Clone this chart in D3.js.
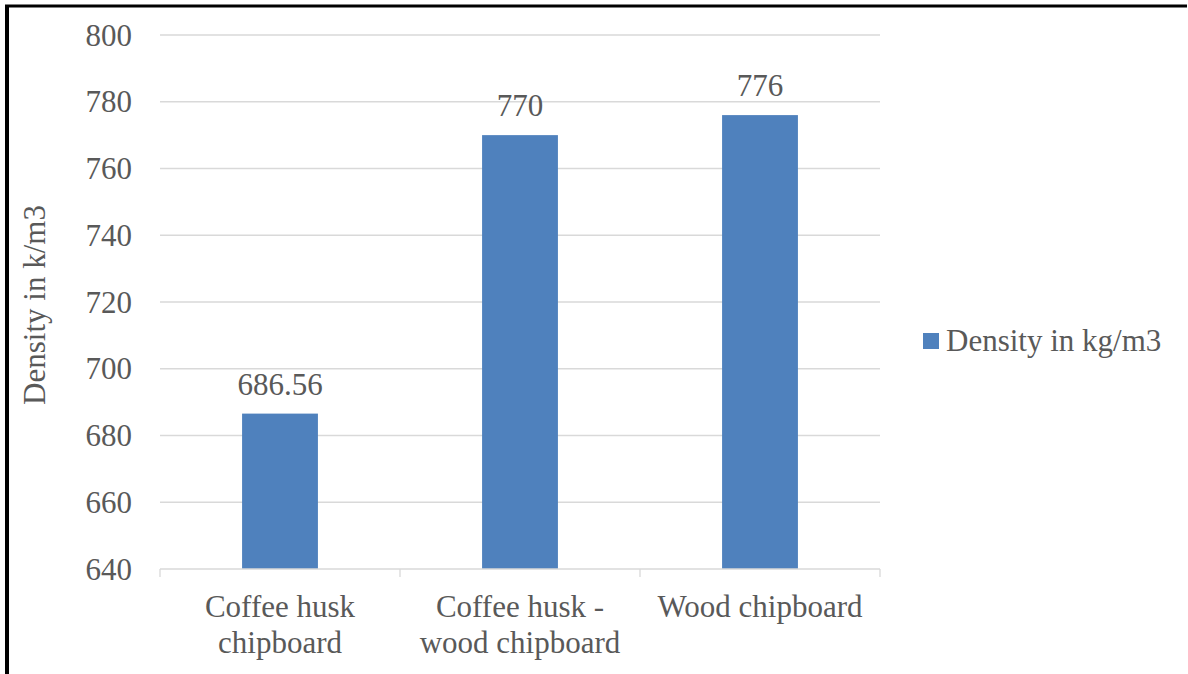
<!DOCTYPE html>
<html>
<head>
<meta charset="utf-8">
<script src="https://cdn.jsdelivr.net/npm/d3@7"></script>
<style>
  html, body { margin: 0; padding: 0; background: #fff; }
  svg { display: block; }
</style>
</head>
<body>
<svg id="chart" width="1188" height="674"></svg>
<script>
// Chart data
const categories = [["Coffee husk", "chipboard"], ["Coffee husk -", "wood chipboard"], ["Wood chipboard"]];
const density = [686.56, 770, 776];
const valueLabels = ["686.56", "770", "776"];
const yTicks = [640, 660, 680, 700, 720, 740, 760, 780, 800];
const seriesName = "Density in kg/m3";
const yTitle = "Density in k/m3";

const FONT = "Liberation Serif";
const FS = 31;
const TXT = "#595959";

const svg = d3.select("#chart");
const W = 1188, H = 674;
const plot = { left: 160, right: 880, top: 35, bottom: 569 };

// Frame lines (left and top)
svg.append("line").attr("x1", 7).attr("x2", 7).attr("y1", 5).attr("y2", H)
  .attr("stroke", "#000").attr("stroke-width", 4);
svg.append("line").attr("x1", 5).attr("x2", 1187).attr("y1", 6).attr("y2", 6)
  .attr("stroke", "#000").attr("stroke-width", 3);

const x = d3.scaleBand()
  .domain(categories.map((d, i) => i))
  .range([plot.left, plot.right])
  .paddingInner(0.684).paddingOuter(0.342);

const xOuter = d3.scaleBand()
  .domain(categories.map((d, i) => i))
  .range([plot.left, plot.right]);

const y = d3.scaleLinear().domain([640, 800]).range([plot.bottom, plot.top]);

// Gridlines
svg.append("g").selectAll("line").data(yTicks.filter(t => t !== 640)).join("line")
  .attr("x1", plot.left).attr("x2", plot.right)
  .attr("y1", d => y(d)).attr("y2", d => y(d))
  .attr("stroke", "#d9d9d9").attr("stroke-width", 1.3);

// Y axis labels
const yAxis = d3.axisLeft(y).tickValues(yTicks).tickSize(0).tickPadding(28);
const gy = svg.append("g").attr("transform", `translate(${plot.left},0)`).call(yAxis)
  .attr("font-family", FONT).attr("font-size", FS);
gy.select(".domain").remove();
gy.selectAll("text").attr("fill", TXT).attr("dy", "0.33em");

// Bars
svg.append("g").selectAll("rect").data(density).join("rect")
  .attr("x", (d, i) => x(i))
  .attr("width", x.bandwidth())
  .attr("y", d => y(d))
  .attr("height", d => y(640) - y(d))
  .attr("fill", "#4f81bd");

// X axis line and category separators
const gx = svg.append("g");
gx.append("line").attr("x1", plot.left).attr("x2", plot.right)
  .attr("y1", plot.bottom).attr("y2", plot.bottom)
  .attr("stroke", "#d9d9d9").attr("stroke-width", 1.3);
const sep = [0, 1, 2].map(i => xOuter(i)).concat([plot.right]);
gx.selectAll("line.tick").data(sep).join("line").attr("class", "tick")
  .attr("x1", d => d).attr("x2", d => d)
  .attr("y1", plot.bottom).attr("y2", plot.bottom + 8)
  .attr("stroke", "#d9d9d9").attr("stroke-width", 1.3);

// Category labels
const cl = svg.append("g").attr("font-family", FONT).attr("font-size", FS).attr("fill", TXT)
  .selectAll("text").data(categories).join("text")
  .attr("text-anchor", "middle")
  .attr("x", (d, i) => x(i) + x.bandwidth() / 2)
  .attr("y", 617);
cl.selectAll("tspan").data(d => d).join("tspan")
  .attr("x", function () { return d3.select(this.parentNode).attr("x"); })
  .attr("dy", (d, i) => i === 0 ? 0 : 36)
  .text(d => d);

// Value labels
svg.append("g").attr("font-family", FONT).attr("font-size", FS).attr("fill", TXT)
  .selectAll("text").data(density).join("text")
  .attr("text-anchor", "middle")
  .attr("x", (d, i) => x(i) + x.bandwidth() / 2)
  .attr("y", d => y(d) - 19)
  .text((d, i) => valueLabels[i]);

// Y axis title
svg.append("text")
  .attr("transform", `translate(45,${(plot.top + plot.bottom) / 2 + 3}) rotate(-90)`)
  .attr("text-anchor", "middle").attr("font-family", FONT).attr("font-size", FS).attr("fill", TXT)
  .text(yTitle);

// Legend
svg.append("rect").attr("x", 923).attr("y", 333).attr("width", 16).attr("height", 16).attr("fill", "#4f81bd");
svg.append("text").attr("x", 946).attr("y", 351)
  .attr("font-family", FONT).attr("font-size", FS).attr("fill", TXT).text(seriesName);
</script>
</body>
</html>
